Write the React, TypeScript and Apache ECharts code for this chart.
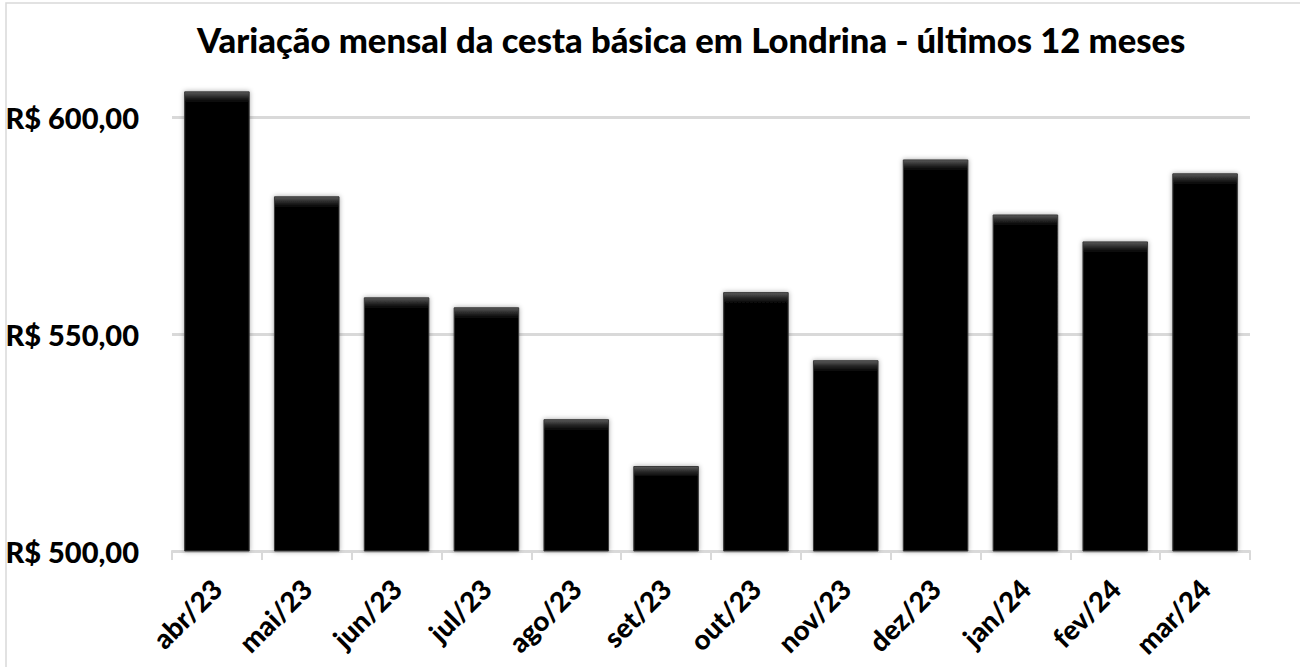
import React, { useEffect, useRef } from "react";
import * as echarts from "echarts";

const titleText = "Variação mensal da cesta básica em Londrina - últimos 12 meses";
const categories = ["abr/23", "mai/23", "jun/23", "jul/23", "ago/23", "set/23", "out/23", "nov/23", "dez/23", "jan/24", "fev/24", "mar/24"];
const values = [606.0, 581.8, 558.5, 556.2, 530.4, 519.6, 559.7, 544.0, 590.3, 577.6, 571.4, 587.1];
const yMin = 500;
const yMax = 610;
const yInterval = 50;

const FONT = "Lato, 'Open Sans', sans-serif";

function fmt(v: number): string {
  return "R$ " + v.toFixed(2).replace(".", ",");
}

export default function App() {
  const ref = useRef<HTMLDivElement>(null);
  useEffect(() => {
    if (!ref.current) return;
    const chart = echarts.init(ref.current, undefined, { renderer: "svg" });
    const gridTop = 74;
    const gridBottom = 116;
    const plotH = 667 - gridTop - gridBottom;
    const data = values.map((v) => {
      const h = ((v - yMin) / (yMax - yMin)) * plotH;
      const f = Math.min(0.5, 10 / h);
      return {
        value: v,
        itemStyle: {
          color: {
            type: "linear",
            x: 0,
            y: 0,
            x2: 0,
            y2: 1,
            colorStops: [
              { offset: 0, color: "#5a5a5a" },
              { offset: f * 0.5, color: "#2a2a2a" },
              { offset: f, color: "#060606" },
              { offset: 1, color: "#060606" },
            ],
          },
        },
      };
    });
    chart.setOption({
      animation: false,
      backgroundColor: "#ffffff",
      title: {
        text: titleText,
        left: 192,
        top: 17,
        textStyle: { fontFamily: FONT, fontWeight: 900, fontSize: 34.6, color: "#000" },
      },
      graphic: [
        {
          type: "rect",
          shape: { x: 6, y: 3, width: 1400, height: 800 },
          style: { fill: "none", stroke: "#d9d9d9", lineWidth: 1.5 },
          silent: true,
        },
      ],
      grid: {
        left: 172,
        right: 50,
        top: gridTop,
        bottom: gridBottom,
        containLabel: false,
        outerBoundsMode: "none",
      },
      xAxis: {
        type: "category",
        data: categories,
        axisLine: { show: true, lineStyle: { color: "#d9d9d9", width: 2 } },
        axisTick: { show: true, length: 9, lineStyle: { color: "#d9d9d9", width: 2 } },
        axisLabel: {
          rotate: 45,
          margin: 33,
          fontFamily: FONT,
          fontWeight: 900,
          fontSize: 27.5,
          color: "#000",
        },
      },
      yAxis: {
        type: "value",
        min: yMin,
        max: yMax,
        interval: yInterval,
        axisLine: { show: false },
        axisTick: { show: false },
        splitLine: { show: true, showMaxLine: false, lineStyle: { color: "#d9d9d9", width: 3 } },
        axisLabel: {
          showMaxLabel: false,
          margin: 33,
          fontFamily: FONT,
          fontWeight: 900,
          fontSize: 29,
          color: "#000",
          formatter: (v: number) => fmt(v),
        },
      },
      series: [
        {
          type: "bar",
          data,
          barCategoryGap: "27%",
          itemStyle: {
            borderColor: "#3a3a3a",
            borderWidth: 1,
            shadowBlur: 5,
            shadowColor: "rgba(0,0,0,0.35)",
          },
        },
      ],
    });
    return () => chart.dispose();
  }, []);
  return (
    <div
      ref={ref}
      style={{ position: "fixed", left: 0, top: 0, width: 1300, height: 667 }}
    />
  );
}
